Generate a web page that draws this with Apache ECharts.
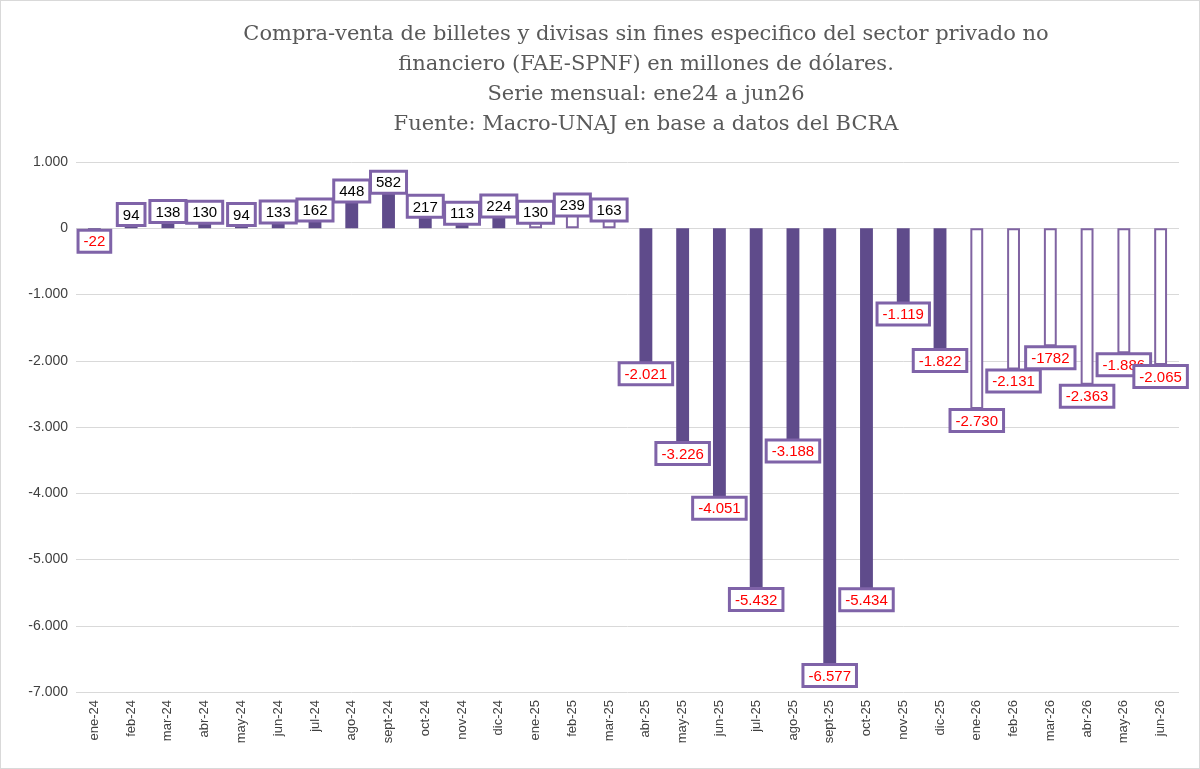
<!DOCTYPE html><html><head><meta charset="utf-8"><script src="https://cdn.jsdelivr.net/npm/echarts@6/dist/echarts.min.js"></script></head><body style="margin:0;background:#fff"><div id="c" style="width:1198px;height:767px;border:1px solid #d9d9d9"></div><script>
const categories=["ene-24","feb-24","mar-24","abr-24","may-24","jun-24","jul-24","ago-24","sept-24","oct-24","nov-24","dic-24","ene-25","feb-25","mar-25","abr-25","may-25","jun-25","jul-25","ago-25","sept-25","oct-25","nov-25","dic-25","ene-26","feb-26","mar-26","abr-26","may-26","jun-26"];
const values=[-22,94,138,130,94,133,162,448,582,217,113,224,130,239,163,-2021,-3226,-4051,-5432,-3188,-6577,-5434,-1119,-1822,-2730,-2131,-1782,-2363,-1886,-2065];
const hollow=[0,0,0,0,0,0,0,0,0,0,0,0,1,1,1,0,0,0,0,0,0,0,0,0,1,1,1,1,1,1];
const labelTexts=["-22","94","138","130","94","133","162","448","582","217","113","224","130","239","163","-2.021","-3.226","-4.051","-5.432","-3.188","-6.577","-5.434","-1.119","-1.822","-2.730","-2.131","-1782","-2.363","-1.886","-2.065"];
const fmt=v=>{const s=Math.abs(v).toString().replace(/\B(?=(\d{3})+(?!\d))/g,'.');return (v<0?'-':'')+s;};
const data=values.map((v,i)=>({value:v,
 itemStyle:hollow[i]?{color:'#fff',borderColor:'#8064a2',borderWidth:2}:{color:'#5f4b8b'},
 label:{show:true,formatter:labelTexts[i],position:v>=0?'top':'bottom',distance:v>=0?-2:2,
  color:v>=0?'#000':'#ff0000',fontSize:15,fontFamily:'Liberation Sans',backgroundColor:'#fff',
  borderColor:'#7f63a8',borderWidth:3,padding:[3,4,1,4]}}));
const ch=echarts.init(document.getElementById('c'));
ch.setOption({
 title:{text:'Compra-venta de billetes y divisas sin fines especifico del sector privado no\nfinanciero (FAE-SPNF) en millones de dólares.\nSerie mensual: ene24 a jun26\nFuente: Macro-UNAJ en base a datos del BCRA',left:640,top:14,textAlign:'center',
  textStyle:{fontFamily:'DejaVu Serif',fontWeight:'normal',fontSize:21,color:'#595959',lineHeight:30}},
 grid:{left:75,right:20,top:161,bottom:76},
 xAxis:{type:'category',data:categories,axisLabel:{rotate:90,fontSize:13,color:'#404040',fontFamily:'Liberation Sans',interval:0},axisTick:{show:false},axisLine:{show:false}},
 yAxis:{type:'value',min:-7000,max:1000,interval:1000,axisLabel:{formatter:fmt,fontSize:14,color:'#404040',fontFamily:'Liberation Sans'},splitLine:{lineStyle:{color:'#d9d9d9'}}},
 series:[{type:'bar',data:data,barWidth:'35%',animation:false}]
});
</script></body></html>
